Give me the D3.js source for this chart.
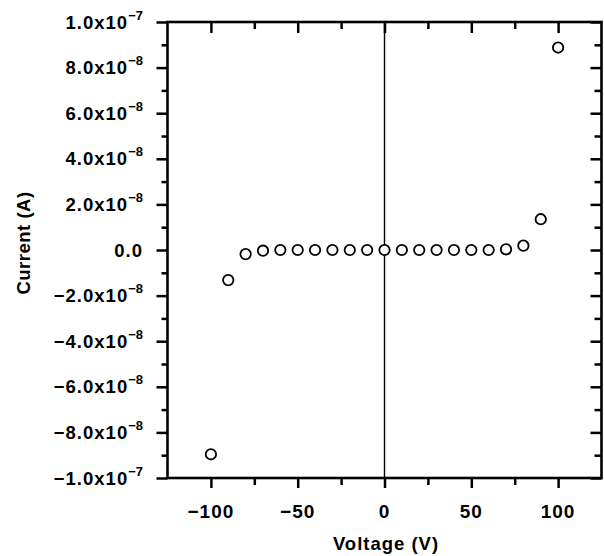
<!DOCTYPE html>
<html>
<head>
<meta charset="utf-8">
<script src="https://cdn.jsdelivr.net/npm/d3@7"></script>
<style>
  html, body { margin: 0; padding: 0; background: #fff; }
  svg { display: block; }
  text { font-family: "Liberation Sans", Arial, Helvetica, sans-serif; font-weight: bold; fill: #000; }
</style>
</head>
<body>
<svg id="chart" width="604" height="556"></svg>
<script>
// ---- data ----
const voltage = [-100, -90, -80, -70, -60, -50, -40, -30, -20, -10, 0, 10, 20, 30, 40, 50, 60, 70, 80, 90, 100];
const current = [-8.96e-8, -1.32e-8, -1.8e-9, -3e-10, 0, 0, 0, 0, 0, 0, 0, 0, 0, 0, 0, 0, 0, 3e-10, 1.9e-9, 1.35e-8, 8.88e-8];

const xMajorTicks = [-100, -50, 0, 50, 100];
const xMinorTicks = [-75, -25, 25, 75];
const xTickLabels = ["\u2212100", "\u221250", "0", "50", "100"];

const yMajorTicks = [1e-7, 8e-8, 6e-8, 4e-8, 2e-8, 0, -2e-8, -4e-8, -6e-8, -8e-8, -1e-7];
const yMinorTicks = [9e-8, 7e-8, 5e-8, 3e-8, 1e-8, -1e-8, -3e-8, -5e-8, -7e-8, -9e-8];
const yTickMantissa = ["1.0x10", "8.0x10", "6.0x10", "4.0x10", "2.0x10", "0.0", "\u22122.0x10", "\u22124.0x10", "\u22126.0x10", "\u22128.0x10", "\u22121.0x10"];
const yTickExponent = ["\u22127", "\u22128", "\u22128", "\u22128", "\u22128", "", "\u22128", "\u22128", "\u22128", "\u22128", "\u22127"];

const xTitle = "Voltage (V)";
const yTitle = "Current (A)";

// ---- layout ----
const mLeft = 167.5, mRight = 601.5, mTop = 22, mBottom = 478;
const svg = d3.select("#chart");

const x = d3.scaleLinear().domain([-125, 125]).range([mLeft, mRight]);
const y = d3.scaleLinear().domain([-1e-7, 1e-7]).range([mBottom, mTop]);

function styleAxis(g) {
  g.select(".domain").remove();
  g.selectAll(".tick line").attr("stroke", "#000").attr("stroke-width", 2.5);
  g.selectAll(".tick text").remove();
}

// left axis (outward ticks)
svg.append("g").attr("transform", `translate(${mLeft},0)`)
  .call(d3.axisLeft(y).tickValues(yMajorTicks).tickSize(11)).call(styleAxis);
svg.append("g").attr("transform", `translate(${mLeft},0)`)
  .call(d3.axisLeft(y).tickValues(yMinorTicks).tickSize(6)).call(styleAxis);
// right axis (inward ticks)
svg.append("g").attr("transform", `translate(${mRight},0)`)
  .call(d3.axisRight(y).tickValues(yMajorTicks).tickSize(-11)).call(styleAxis);
svg.append("g").attr("transform", `translate(${mRight},0)`)
  .call(d3.axisRight(y).tickValues(yMinorTicks).tickSize(-7)).call(styleAxis);
// bottom axis (outward ticks)
svg.append("g").attr("transform", `translate(0,${mBottom})`)
  .call(d3.axisBottom(x).tickValues(xMajorTicks).tickSize(10)).call(styleAxis);
svg.append("g").attr("transform", `translate(0,${mBottom})`)
  .call(d3.axisBottom(x).tickValues(xMinorTicks).tickSize(7)).call(styleAxis);
// top axis (inward ticks)
svg.append("g").attr("transform", `translate(0,${mTop})`)
  .call(d3.axisTop(x).tickValues(xMajorTicks).tickSize(-11)).call(styleAxis);
svg.append("g").attr("transform", `translate(0,${mTop})`)
  .call(d3.axisTop(x).tickValues(xMinorTicks).tickSize(-7)).call(styleAxis);

// zero line
svg.append("line")
  .attr("x1", x(0)).attr("x2", x(0)).attr("y1", mTop).attr("y2", mBottom)
  .attr("stroke", "#000").attr("stroke-width", 1.4);

// frame
svg.append("rect")
  .attr("x", mLeft).attr("y", mTop).attr("width", mRight - mLeft).attr("height", mBottom - mTop)
  .attr("fill", "none").attr("stroke", "#000").attr("stroke-width", 2.6);

// points
svg.append("g").selectAll("circle")
  .data(voltage.map((v, i) => [v, current[i]]))
  .join("circle")
  .attr("cx", d => x(d[0])).attr("cy", d => y(d[1])).attr("r", 5.2)
  .attr("fill", "#fff").attr("stroke", "#000").attr("stroke-width", 1.8);

// y tick labels
const yl = svg.append("g").selectAll("text")
  .data(yMajorTicks.map((v, i) => ({ v, m: yTickMantissa[i], e: yTickExponent[i] })))
  .join("text")
  .attr("x", 143).attr("y", d => y(d.v) + 6.5)
  .attr("text-anchor", "end")
  .style("font-size", "18.5px").style("letter-spacing", "1px");
yl.append("tspan").text(d => d.m);
yl.append("tspan").attr("dy", -9).style("font-size", "13px").style("letter-spacing", "0px").text(d => d.e);

// x tick labels
svg.append("g").selectAll("text")
  .data(xMajorTicks.map((v, i) => ({ v, t: xTickLabels[i] })))
  .join("text")
  .attr("x", d => x(d.v)).attr("y", 518)
  .attr("text-anchor", "middle")
  .style("font-size", "19px").style("letter-spacing", "1px")
  .text(d => d.t);

// axis titles
svg.append("text")
  .attr("x", 386).attr("y", 550)
  .attr("text-anchor", "middle")
  .style("font-size", "18.5px").style("letter-spacing", "1px")
  .text(xTitle);
svg.append("text")
  .attr("transform", "translate(30,243) rotate(-90)")
  .attr("text-anchor", "middle")
  .style("font-size", "18.5px").style("letter-spacing", "0.5px")
  .text(yTitle);
</script>
</body>
</html>
